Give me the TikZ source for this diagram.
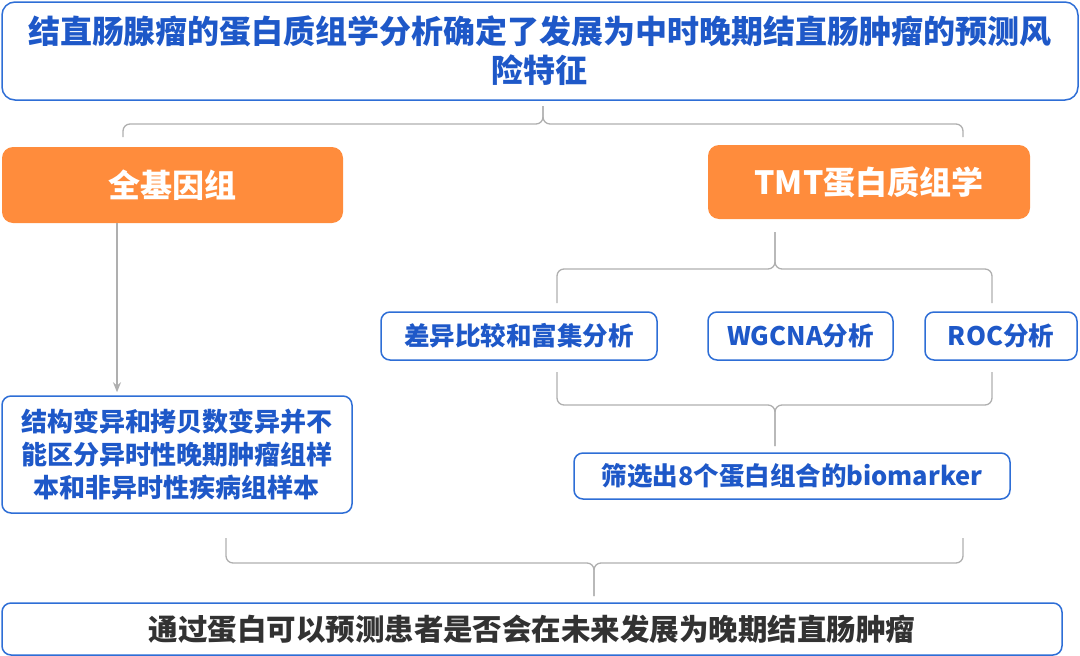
\documentclass[tikz,border=0pt]{standalone}
\usepackage{fontspec}
\setmainfont{Noto Sans CJK SC}
\usetikzlibrary{arrows.meta, positioning, calc}
\definecolor{accent}{RGB}{46,110,214}
\definecolor{accentdk}{RGB}{30,88,200}
\definecolor{orangebg}{RGB}{255,140,60}
\definecolor{softgrey}{RGB}{175,175,175}
\definecolor{inkgrey}{RGB}{50,50,50}

\begin{document}
\begin{tikzpicture}[x=1pt, y=-1pt,
  bbox/.style={rectangle, rounded corners=9pt, draw=accent, line width=1.5pt, fill=white,
               align=center, text=accentdk, inner sep=0pt,
               font=\bfseries\fontsize{25.5}{33}\selectfont},
  tbox/.style={bbox, rounded corners=13pt, font=\bfseries\fontsize{32}{39}\selectfont},
  obox/.style={rectangle, rounded corners=11pt, fill=orangebg, text=white, inner sep=0pt,
               font=\bfseries\fontsize{32}{36}\selectfont},
  brk/.style={softgrey, line width=1.3pt, rounded corners=7pt},
  arr/.style={-{Stealth[length=10pt, width=8pt]}, softgrey, line width=1.3pt}
]
\useasboundingbox (0,0) rectangle (1080,656);

% title
\node[tbox, minimum width=1076pt, minimum height=98pt] (title) at (540,51)
  {结直肠腺瘤的蛋白质组学分析确定了发展为中时晚期结直肠肿瘤的预测风\\险特征};

% two branches
\node[obox, minimum width=341pt, minimum height=76pt] (genome) at (172.5,185) {全基因组};
\node[obox, minimum width=322pt, minimum height=74pt] (tmt) at (869,182) {TMT蛋白质组学};

\coordinate (f1s) at (543,106);
\coordinate (f1l) at (123,137);
\coordinate (f1r) at (963,137);
\draw[brk] (f1s) |- (123,124) -- (f1l);
\draw[brk] (f1s) |- (963,124) -- (f1r);

% genome side
\node[bbox, minimum width=350pt, minimum height=117pt, font=\bfseries\fontsize{26}{33}\selectfont]
  (sv) at (177,454.5)
  {结构变异和拷贝数变异并不\\能区分异时性晚期肿瘤组样\\本和非异时性疾病组样本};
\coordinate (ax) at (117,0);
\draw[arr, shorten >=3pt] (genome.south -| ax) -- (sv.north -| ax);

% proteomics analyses
\node[bbox, minimum width=276pt, minimum height=48pt] (diff) at (519,336) {差异比较和富集分析};
\node[bbox, minimum width=185pt, minimum height=48pt] (wgcna) at (800.5,336) {WGCNA分析};
\node[bbox, minimum width=152pt, minimum height=48pt] (roc) at (1001,336) {ROC分析};

\coordinate (f2s) at (775,232);
\coordinate (f2l) at (557,303);
\coordinate (f2r) at (992,303);
\draw[brk] (f2s) |- (557,269) -- (f2l);
\draw[brk] (f2s) |- (992,269) -- (f2r);

\node[bbox, minimum width=436pt, minimum height=46pt] (bio) at (792,476) {筛选出8个蛋白组合的biomarker};

\coordinate (f3l) at (557,372);
\coordinate (f3r) at (992,372);
\coordinate (f3s) at (775,446);
\draw[brk] (f3l) |- (775,405) -- (f3s);
\draw[brk] (f3r) |- (775,405) -- (f3s);

% conclusion
\node[bbox, minimum width=1060pt, minimum height=52pt, text=inkgrey,
      font=\bfseries\fontsize{29.5}{34}\selectfont] (final) at (532,629)
  {通过蛋白可以预测患者是否会在未来发展为晚期结直肠肿瘤};

\coordinate (f4l) at (226,538);
\coordinate (f4r) at (963,538);
\coordinate (f4s) at (594,596);
\draw[brk] (f4l) |- (594,563) -- (f4s);
\draw[brk] (f4r) |- (594,563) -- (f4s);

\end{tikzpicture}
\end{document}
